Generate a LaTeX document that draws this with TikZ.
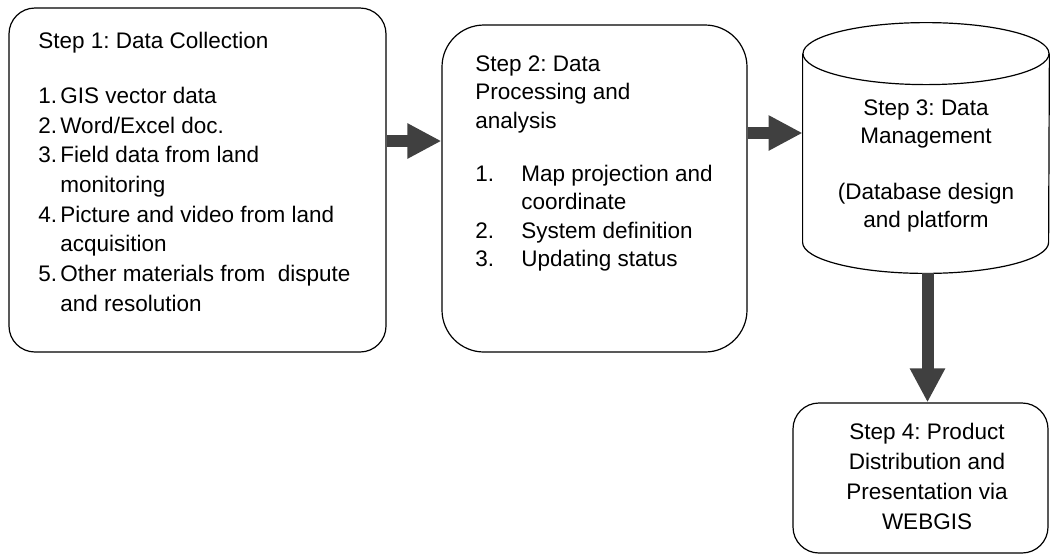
\documentclass[tikz,border=0pt]{standalone}
\usepackage{fontspec}
\setmainfont{Liberation Sans}
\frenchspacing
\usetikzlibrary{calc,arrows.meta}

\newcommand{\numA}[1]{\makebox[11pt][l]{#1}}
\newcommand{\numB}[1]{\makebox[23pt][l]{#1}}

\begin{document}
\begin{tikzpicture}[x=0.5pt,y=-0.5pt,
  stepbox/.style={draw,line width=0.6pt,rounded corners=13pt,inner sep=0pt},
  steptext/.style={inner sep=0pt,align=left,anchor=north west,font=\fontsize{11.25}{14.85}\selectfont},
  bigarrow/.style={draw=black!75,line width=6pt,-{Triangle[length=17pt,width=16.5pt]}}]
  \useasboundingbox (0,0) rectangle (1050,554);

  % step 1
  \node [stepbox,minimum width=188.5pt,minimum height=172pt] (s1) at (197.5,180) {};
  \node [steptext] (t1) at (38,32) {Step 1: Data Collection\\[12.5pt]
    \numA{1.}GIS vector data\\
    \numA{2.}Word/Excel doc.\\
    \numA{3.}Field data from land\\
    \numA{}monitoring\\
    \numA{4.}Picture and video from land\\
    \numA{}acquisition\\
    \numA{5.}Other materials from\ \ dispute\\
    \numA{}and resolution};

  % step 2
  \node [stepbox,rounded corners=21pt,minimum width=152.5pt,minimum height=163.5pt] (s2) at (594.5,188.5) {};
  \node [steptext,font=\fontsize{11.25}{14.25}\selectfont] (t2) at (475,55) {Step 2: Data\\
    Processing and\\
    analysis\\[12.25pt]
    \numB{1.}Map projection and\\
    \numB{}coordinate\\
    \numB{2.}System definition\\
    \numB{3.}Updating status};

  % step 3 (database drum)
  \node [inner sep=0pt,minimum width=123pt,minimum height=125pt] (s3) at (926,148) {};
  \draw [line width=0.6pt] ($(s3.north)+(0,31)$) ellipse [x radius=61.5pt,y radius=15.5pt];
  \draw [line width=0.6pt] ($(s3.north west)+(0,31)$) -- ($(s3.south west)+(0,-31)$)
    arc [start angle=180,end angle=360,x radius=61.5pt,y radius=15.5pt]
    -- ($(s3.north east)+(0,31)$);
  \node [steptext,align=center,anchor=north,font=\fontsize{11.25}{14}\selectfont] (t3) at (926,99) {Step 3: Data\\
    Management\\[14pt]
    (Database design\\
    and platform};

  % step 4
  \node [stepbox,minimum width=127.5pt,minimum height=75pt] (s4) at (920.5,478) {};
  \node [steptext,align=center,anchor=center,font=\fontsize{11.25}{15}\selectfont] (t4) at (927,476) {Step 4: Product\\
    Distribution and\\
    Presentation via\\
    WEBGIS};

  \draw [bigarrow] (s1.east |- 0,141) -- (s2.west |- 0,141);
  \draw [bigarrow] (s2.east |- 0,133) -- (s3.west |- 0,133);
  \draw [bigarrow] (s3.south -| 927.5,0) -- (s4.north -| 927.5,0);

\end{tikzpicture}
\end{document}
